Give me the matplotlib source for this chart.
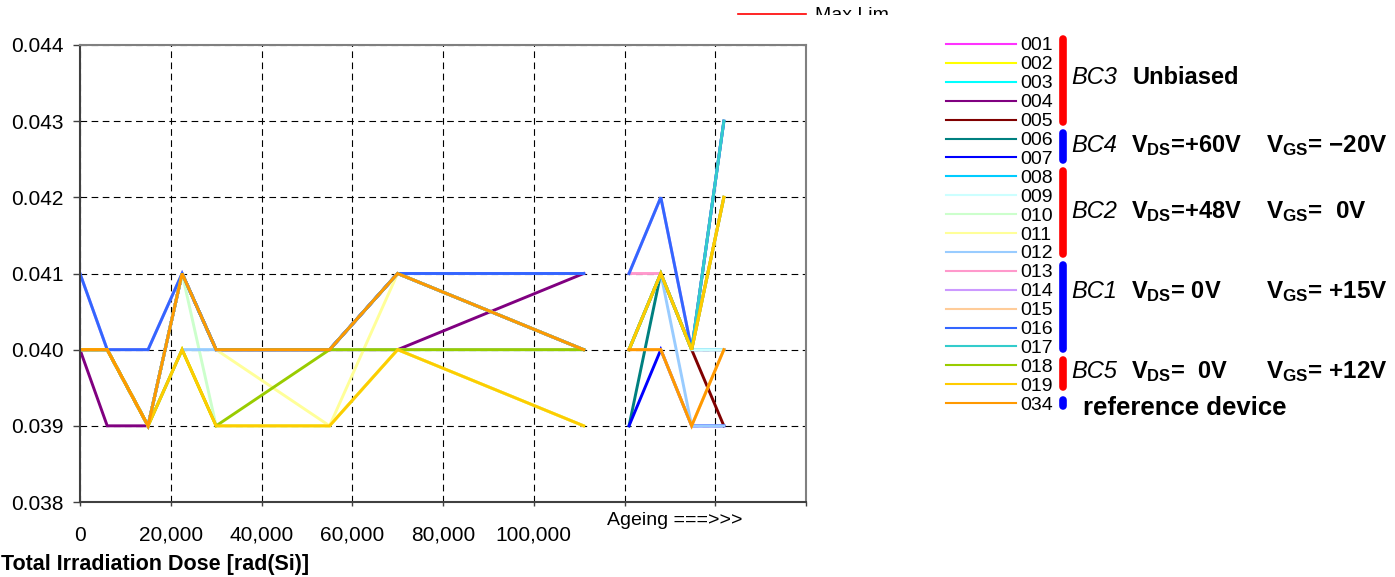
import numpy as np
import matplotlib.pyplot as plt
import matplotlib as mpl
from matplotlib.ticker import MultipleLocator, FuncFormatter
from matplotlib.patches import Rectangle

mpl.rcParams['font.family'] = 'Liberation Sans'
mpl.rcParams['mathtext.fontset'] = 'custom'
mpl.rcParams['mathtext.rm'] = 'Liberation Sans:bold'
mpl.rcParams['mathtext.bf'] = 'Liberation Sans:bold'
mpl.rcParams['mathtext.it'] = 'Liberation Sans:italic'

# irradiation steps [rad(Si)] and the ageing readings after them
dose_x = [0, 6000, 15000, 22500, 30000, 55000, 70000, 111000]
age_x = [121000, 128000, 134800, 141900]

devices = ['001', '002', '003', '004', '005', '006', '007', '008', '009', '010',
           '011', '012', '013', '014', '015', '016', '017', '018', '019', '034']
colors = ['#FF33FF', '#FFFF00', '#00FFFF', '#800080', '#800000', '#008080', '#0000FF',
          '#00CCFF', '#CCFFFF', '#CCFFCC', '#FFFF99', '#99CCFF', '#FF99CC', '#CC99FF',
          '#FFCC99', '#3366FF', '#33CCCC', '#99CC00', '#FFCC00', '#FF9900']

dose_y = [
    [0.040, 0.040, 0.039, 0.041, 0.040, 0.040, 0.041, 0.040],  # 001
    [0.040, 0.040, 0.039, 0.040, 0.039, 0.039, 0.040, 0.039],  # 002
    [0.040, 0.040, 0.039, 0.041, 0.040, 0.040, 0.041, 0.040],  # 003
    [0.040, 0.039, 0.039, 0.041, 0.040, 0.040, 0.040, 0.041],  # 004
    [0.040, 0.040, 0.039, 0.041, 0.040, 0.040, 0.041, 0.040],  # 005
    [0.040, 0.040, 0.039, 0.041, 0.040, 0.040, 0.041, 0.040],  # 006
    [0.040, 0.040, 0.039, 0.041, 0.040, 0.040, 0.041, 0.041],  # 007
    [0.040, 0.040, 0.039, 0.041, 0.040, 0.040, 0.041, 0.040],  # 008
    [0.040, 0.040, 0.039, 0.040, 0.040, 0.040, 0.040, 0.040],  # 009
    [0.040, 0.040, 0.039, 0.041, 0.039, 0.039, 0.040, 0.039],  # 010
    [0.040, 0.040, 0.039, 0.041, 0.040, 0.039, 0.041, 0.040],  # 011
    [0.040, 0.040, 0.039, 0.040, 0.040, 0.040, 0.040, 0.040],  # 012
    [0.040, 0.040, 0.039, 0.041, 0.040, 0.040, 0.041, 0.040],  # 013
    [0.041, 0.040, 0.040, 0.041, 0.040, 0.040, 0.041, 0.041],  # 014
    [0.040, 0.040, 0.039, 0.041, 0.040, 0.040, 0.041, 0.040],  # 015
    [0.041, 0.040, 0.040, 0.041, 0.040, 0.040, 0.041, 0.041],  # 016
    [0.040, 0.040, 0.039, 0.041, 0.040, 0.040, 0.041, 0.040],  # 017
    [0.040, 0.040, 0.039, 0.040, 0.039, 0.040, 0.040, 0.040],  # 018
    [0.040, 0.040, 0.039, 0.040, 0.039, 0.039, 0.040, 0.039],  # 019
    [0.040, 0.040, 0.039, 0.041, 0.040, 0.040, 0.041, 0.040],  # 034
]

age_y = [
    [0.040, 0.041, 0.040, 0.042],  # 001
    [0.040, 0.041, 0.040, 0.042],  # 002
    [0.040, 0.041, 0.040, 0.042],  # 003
    [0.040, 0.041, 0.040, 0.040],  # 004
    [0.040, 0.041, 0.040, 0.039],  # 005
    [0.039, 0.041, 0.040, 0.043],  # 006
    [0.039, 0.040, 0.039, 0.039],  # 007
    [0.040, 0.041, 0.040, 0.040],  # 008
    [0.040, 0.041, 0.040, 0.040],  # 009
    [0.040, 0.041, 0.040, 0.042],  # 010
    [0.040, 0.041, 0.040, 0.042],  # 011
    [0.040, 0.041, 0.039, 0.039],  # 012
    [0.041, 0.041, 0.040, 0.042],  # 013
    [0.041, 0.042, 0.040, 0.043],  # 014
    [0.040, 0.040, 0.039, 0.040],  # 015
    [0.041, 0.042, 0.040, 0.043],  # 016
    [0.040, 0.041, 0.040, 0.043],  # 017
    [0.040, 0.041, 0.040, 0.042],  # 018
    [0.040, 0.041, 0.040, 0.042],  # 019
    [0.040, 0.040, 0.039, 0.040],  # 034
]

# bias conditions: first/last legend row of each group
group_names = ['BC3', 'BC4', 'BC2', 'BC1', 'BC5']
group_rows = [(0, 4), (5, 6), (7, 11), (12, 16), (17, 18)]
group_bar = ['#FF0000', '#0000FF', '#FF0000', '#0000FF', '#FF0000']
group_vds = [None, '+60V', '+48V', ' 0V', '  0V']
group_vgs = [None, ' \u221220V', '  0V', ' +15V', ' +12V']
group_base = [84, 151.7, 217.7, 298.3, 378.3]

W, H = 1395, 577
fig = plt.figure(figsize=(W / 100, H / 100), dpi=100)
ax = fig.add_axes([80 / W, 75 / H, 726 / W, 457 / H])

for i in range(len(devices)):
    ax.plot(dose_x, dose_y[i], color=colors[i], linewidth=2.1, solid_joinstyle='miter')
    ax.plot(age_x, age_y[i], color=colors[i], linewidth=2.1, solid_joinstyle='miter')

ax.set_xlim(0, 160000)
ax.set_ylim(0.038, 0.044)
ax.xaxis.set_major_locator(MultipleLocator(20000))
ax.yaxis.set_major_locator(MultipleLocator(0.001))
ax.xaxis.set_major_formatter(FuncFormatter(lambda v, p: f'{v:,.0f}' if v <= 100000 else ''))
ax.yaxis.set_major_formatter(FuncFormatter(lambda v, p: f'{v:.3f}'))
ax.set_axisbelow(True)
ax.grid(True, color='black', linestyle=(0, (6, 4)), linewidth=0.8)
for s in ['left', 'bottom']:
    ax.spines[s].set_color('#404040')
    ax.spines[s].set_linewidth(1.5)
for s in ['top', 'right']:
    ax.spines[s].set_color('#808080')
    ax.spines[s].set_linewidth(1.5)
ax.tick_params(axis='y', direction='out', length=5, width=1, color='#404040', pad=7, labelsize=15)
ax.tick_params(axis='x', direction='out', length=3, width=1, color='#404040', pad=14, labelsize=15)

# overlay in pixel units for the free text and the legend
ov = fig.add_axes([0, 0, 1, 1])
ov.set_xlim(0, W)
ov.set_ylim(H, 0)
ov.axis('off')

ov.text(1, 570, 'Total Irradiation Dose [rad(Si)]', fontsize=15.5, fontweight='bold',
        ha='left', va='baseline')
ov.text(607, 525, 'Ageing ===>>>', fontsize=14, ha='left', va='baseline')

# "Max Lim" entry, cut at the top of the chart
ov.plot([738, 806], [14.3, 14.3], color='#FF0000', linewidth=1.2, zorder=4)
ov.text(815, 20, 'Max Lim', fontsize=14, ha='left', va='baseline', zorder=2)
ov.add_patch(Rectangle((808, 15.2), 120, 20, facecolor='white', edgecolor='none', zorder=3))

row_y = [44 + 18.9 * i for i in range(len(devices))]
for i, name in enumerate(devices):
    ov.plot([946, 1016], [row_y[i], row_y[i]], color=colors[i], linewidth=1.5)
    ov.text(1020, row_y[i] + 6.5, name, fontsize=14, ha='left', va='baseline')

for g, (r0, r1) in enumerate(group_rows):
    ov.plot([1062.5, 1062.5], [row_y[r0] - 5.5, row_y[r1] + 2.5], color=group_bar[g],
            linewidth=5.5, solid_capstyle='round')
    base = group_base[g]
    ov.text(1071, base, group_names[g], fontsize=17, fontstyle='italic', ha='left', va='baseline')
    if group_vds[g] is None:
        ov.text(1133, base, 'Unbiased', fontsize=17, fontweight='bold', ha='left', va='baseline')
    else:
        ov.text(1131, base, r'V$_{\mathrm{DS}}$=' + group_vds[g], fontsize=17,
                fontweight='bold', ha='left', va='baseline')
        ov.text(1266, base, r'V$_{\mathrm{GS}}$=' + group_vgs[g], fontsize=17.5,
                fontweight='bold', ha='left', va='baseline')

# reference device marker
ov.plot([1062.5, 1062.5], [row_y[19] - 3, row_y[19] + 3], color='#0000FF',
        linewidth=5.5, solid_capstyle='round')
ov.text(1083, 415, 'reference device', fontsize=18.5, fontweight='bold', ha='left', va='baseline')

fig.savefig('out.png', dpi=100)
